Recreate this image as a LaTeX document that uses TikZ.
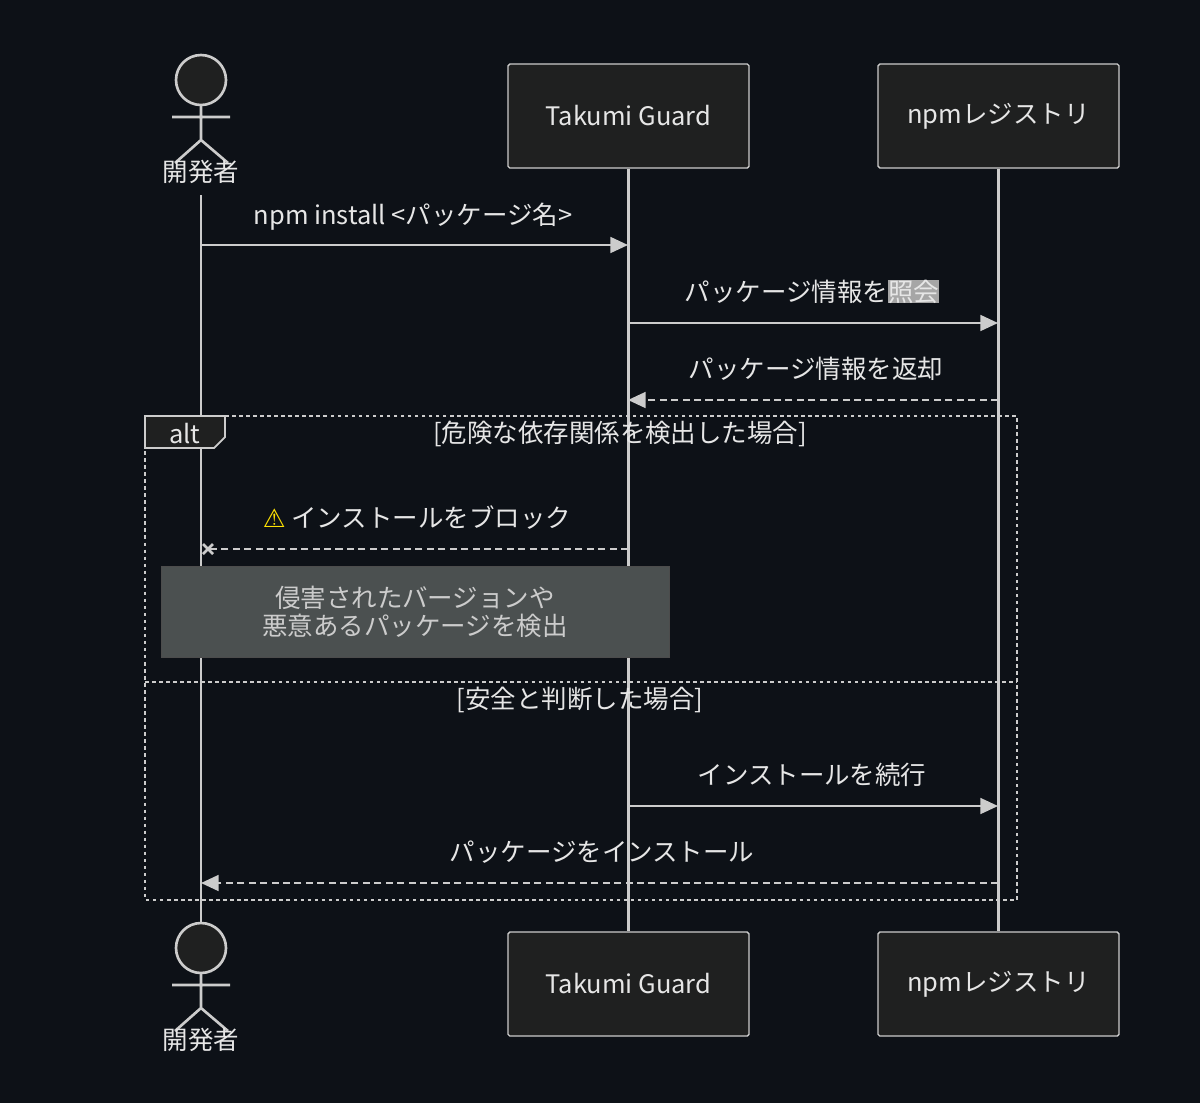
\documentclass[tikz,border=0pt]{standalone}
\usepackage{fontspec}
\setmainfont{Noto Sans CJK JP}
\newfontfamily\symf{DejaVu Sans}
\usetikzlibrary{arrows.meta}
\definecolor{bg}{HTML}{0D1117}
\definecolor{ln}{HTML}{CCCCCC}
\definecolor{tx}{HTML}{E6E6E6}
\definecolor{bx}{HTML}{1F2020}
\definecolor{nt}{HTML}{4B5050}
\begin{document}
\begin{tikzpicture}[x=0.02cm,y=-0.02cm,
  every node/.style={font=\fontsize{14.5}{18}\selectfont,text=tx},
  part/.style={draw=ln,fill=bx,line width=0.8pt,minimum width=241*0.02cm,minimum height=104*0.02cm,rounded corners=1pt},
  life/.style={draw=ln,line width=1.5pt},
  msg/.style={draw=ln,line width=1.2pt,-{Triangle[length=10pt,width=9pt]}},
  dmsg/.style={msg,dash pattern=on 4pt off 2.5pt},
  lbl/.style={anchor=base}]
\fill[bg] (0,0) rectangle (1200,1103);
\useasboundingbox (0,0) rectangle (1200,1103);
% lifelines
\coordinate (a1) at (201,195); \coordinate (a2) at (201,925);
\draw[life] (a1) -- (a2);
\node[part] (tg) at (628.5,116) {Takumi Guard};
\node[part] (np) at (998.5,116) {npmレジストリ};
\node[part] (tg2) at (628.5,984) {Takumi Guard};
\node[part] (np2) at (998.5,984) {npmレジストリ};
\draw[life] (tg.south) -- (tg2.north);
\draw[life] (np.south) -- (np2.north);
% actors
\foreach \yy/\nm in {0/top,868/bot}{
\begin{scope}[yshift=-\yy*0.02cm]
\draw[ln,line width=1.5pt,fill=bx] (201,80) circle (25*0.02cm);
\draw[ln,line width=1.5pt] (201,105) -- (201,140) (172,117) -- (230,117) (175,163) -- (201,140) -- (228,163);
\node (\nm) at (201,172) {開発者};
\end{scope}}
% message coordinates
\coordinate (d1) at (201,245); \coordinate (g1) at (628,245);
\draw[msg] (d1) -- (g1);
\node[lbl] at (413,224) {npm install <パッケージ名>};
\coordinate (g2) at (628,323); \coordinate (n2) at (998,323);
\draw[msg] (g2) -- (n2);
\node[lbl] at (812,301) {パッケージ情報を\setlength{\fboxsep}{0pt}\colorbox{gray!70}{照会}};
\coordinate (n3) at (998,400); \coordinate (g3) at (628,400);
\draw[dmsg] (n3) -- (g3);
\node[lbl] at (816,378) {パッケージ情報を返却};
% alt frame
\draw[ln,line width=1.2pt,dash pattern=on 2pt off 2pt] (145,416) rectangle (1017,900);
\draw[ln,line width=1pt,fill=bx] (145,416) -- (225,416) -- (225,437) -- (214,448) -- (145,448) -- cycle;
\node (alt) at (185,434) {alt};
\node (c1) at (620,434) {[危険な依存関係を検出した場合]};
% block message
\coordinate (g4) at (628,549); \coordinate (d4) at (208,549);
\draw[ln,line width=1.2pt,dash pattern=on 4pt off 2.5pt] (g4) -- (d4);
\draw[ln,line width=1.5pt] (203,544) -- (213,554) (203,554) -- (213,544);
\node[lbl] at (417,527) {{\symf\color{yellow!85!orange}⚠} インストールをブロック};
% note
\node[draw=gray!60!black,fill=nt,minimum width=508*0.02cm,minimum height=91*0.02cm,align=center,text=gray!40!white,inner sep=0pt] (note) at (415,611.5) {侵害されたバージョンや\\[-2pt]悪意あるパッケージを検出};
\draw[ln,line width=1.2pt,dash pattern=on 2pt off 2pt] (145,682) -- (1017,682);
\node (c2) at (580,700) {[安全と判断した場合]};
\coordinate (g5) at (628,806); \coordinate (n5) at (998,806);
\draw[msg] (g5) -- (n5);
\node[lbl] at (812,784) {インストールを続行};
\coordinate (n6) at (998,883); \coordinate (d6) at (201,883);
\draw[dmsg] (n6) -- (d6);
\node[lbl] at (602,861) {パッケージをインストール};
\end{tikzpicture}
\end{document}
